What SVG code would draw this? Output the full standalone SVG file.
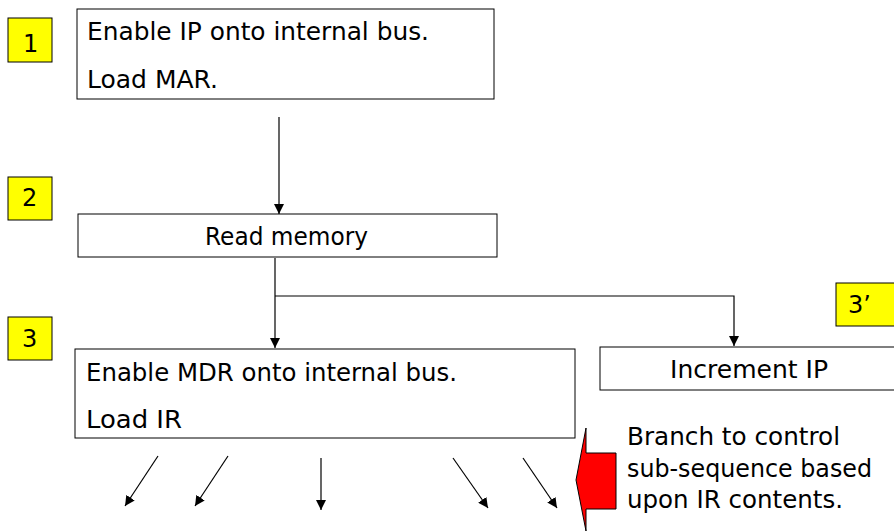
<svg xmlns="http://www.w3.org/2000/svg" width="894" height="531" viewBox="0 0 894 531">
<style>
.box{fill:#fff;stroke:#000;stroke-width:1}
.badge{fill:#ffff00;stroke:#000;stroke-width:1}
.t{font-family:"DejaVu Sans","Liberation Sans",sans-serif;font-size:24px;fill:#000}
.c{stroke:#000;stroke-width:1.2;fill:none}
</style>
<defs>
<marker id="ah" viewBox="0 0 10 10" refX="10" refY="5" markerWidth="10" markerHeight="10" markerUnits="userSpaceOnUse" orient="auto">
<path d="M0,0 L10,5 L0,10 Z" fill="#000"/>
</marker>
</defs>
<rect width="894" height="531" fill="#fff"/>
<g id="badge1"><rect class="badge" x="8" y="18" width="44" height="44"/><text class="t" x="23" y="52">1</text></g>
<g id="badge2"><rect class="badge" x="8" y="177" width="44" height="43"/><text class="t" x="22" y="206">2</text></g>
<g id="badge3"><rect class="badge" x="8" y="317" width="44" height="43"/><text class="t" x="22" y="347">3</text></g>
<g id="badge3p"><rect class="badge" x="836" y="283" width="62" height="43"/><text class="t" x="848" y="313">3’</text></g>
<g id="node1"><rect class="box" x="77" y="9" width="417" height="90"/>
<text class="t" x="87" y="40" textLength="342" lengthAdjust="spacingAndGlyphs">Enable IP onto internal bus.</text>
<text class="t" x="87" y="88" textLength="131" lengthAdjust="spacingAndGlyphs">Load MAR.</text></g>
<g id="node2"><rect class="box" x="78" y="214" width="419" height="43"/>
<text class="t" x="205" y="245" textLength="163" lengthAdjust="spacingAndGlyphs">Read memory</text></g>
<g id="node3"><rect class="box" x="75" y="349" width="500" height="89"/>
<text class="t" x="86" y="381" textLength="371" lengthAdjust="spacingAndGlyphs">Enable MDR onto internal bus.</text>
<text class="t" x="86" y="428" textLength="96" lengthAdjust="spacingAndGlyphs">Load IR</text></g>
<g id="node4"><rect class="box" x="600" y="347" width="300" height="43"/>
<text class="t" x="670" y="378" textLength="158" lengthAdjust="spacingAndGlyphs">Increment IP</text></g>
<g id="branch">
<polygon points="616,453 586,453 586,428 576,480 586,531 586,509 616,509" fill="#ff0000" stroke="#000" stroke-width="1"/>
<text class="t" x="627" y="445" textLength="213" lengthAdjust="spacingAndGlyphs">Branch to control</text>
<text class="t" x="627" y="477" textLength="245" lengthAdjust="spacingAndGlyphs">sub-sequence based</text>
<text class="t" x="627" y="508" textLength="216" lengthAdjust="spacingAndGlyphs">upon IR contents.</text>
</g>
<g id="connectors">
<line class="c" x1="279" y1="117" x2="279" y2="214" marker-end="url(#ah)"/>
<line class="c" x1="275" y1="258" x2="275" y2="348" marker-end="url(#ah)"/>
<polyline class="c" points="275,296 734,296 734,346" marker-end="url(#ah)"/>
<line class="c" x1="158" y1="456" x2="125" y2="506" marker-end="url(#ah)"/>
<line class="c" x1="228" y1="456" x2="195" y2="506" marker-end="url(#ah)"/>
<line class="c" x1="321" y1="458" x2="321" y2="510" marker-end="url(#ah)"/>
<line class="c" x1="453" y1="458" x2="488" y2="508" marker-end="url(#ah)"/>
<line class="c" x1="523" y1="458" x2="557" y2="508" marker-end="url(#ah)"/>
</g>
</svg>
